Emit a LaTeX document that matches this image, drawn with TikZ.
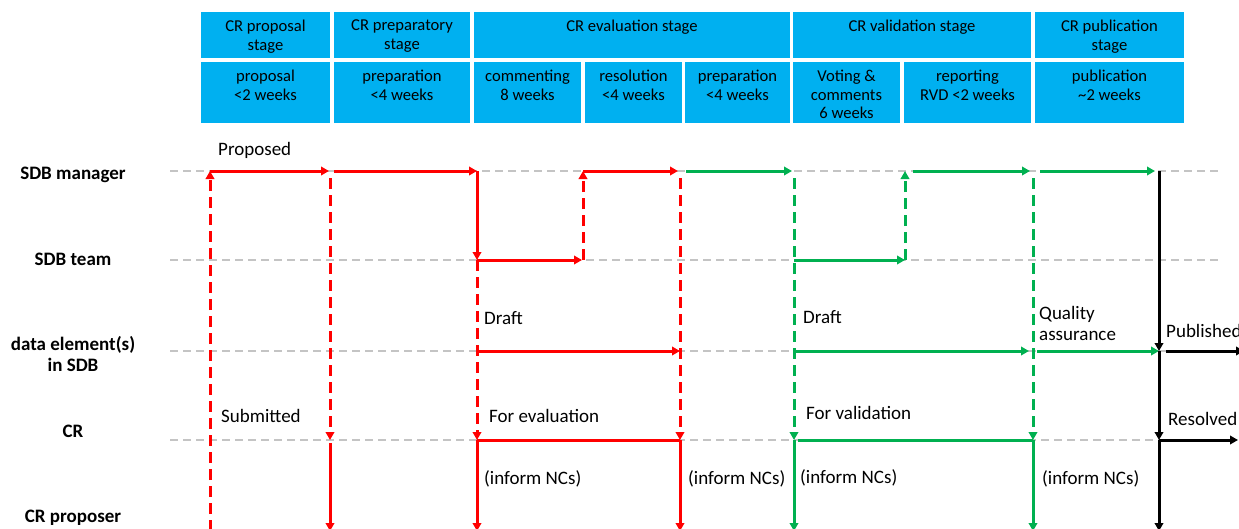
\documentclass[tikz,border=0pt]{standalone}
\usepackage{fontspec}
\setmainfont{Carlito}
\usetikzlibrary{arrows.meta}
\definecolor{hdr}{HTML}{00B0F0}
\definecolor{rd}{HTML}{FF0000}
\definecolor{gr}{HTML}{00B050}
\definecolor{lanec}{HTML}{C4C4C4}
\begin{document}
\begin{tikzpicture}[x=1pt,y=-1pt,
  hbox/.style={fill=hdr, draw=none, inner sep=0pt, outer sep=0pt, anchor=north west},
  htext/.style={font=\fontsize{16.6}{18.5}\selectfont, align=center, anchor=north, inner sep=0pt},
  lbl/.style={font=\fontsize{19}{21}\selectfont, anchor=base west, inner sep=0pt},
  lanelbl/.style={font=\bfseries\fontsize{19}{21}\selectfont, anchor=base, inner sep=0pt},
  laneline/.style={draw=lanec, line width=2pt, dash pattern=on 8pt off 5pt},
  flow/.style={line width=3pt, -{Triangle[length=8pt,width=8.5pt]}},
  plain/.style={line width=3pt},
  dsh/.style={dash pattern=on 11pt off 6pt},
]
\useasboundingbox (0,0) rectangle (1239,528);

% ---------- header ----------
\node[hbox, minimum width=129pt, minimum height=46pt] (s1) at (201,12) {};
\node[hbox, minimum width=136pt, minimum height=46pt] (s2) at (334,12) {};
\node[hbox, minimum width=316pt, minimum height=46pt] (s3) at (474,12) {};
\node[hbox, minimum width=238pt, minimum height=46pt] (s4) at (793,12) {};
\node[hbox, minimum width=149pt, minimum height=46pt] (s5) at (1035,12) {};

\node[hbox, minimum width=129pt, minimum height=61pt] (p1) at (201,62) {};
\node[hbox, minimum width=136pt, minimum height=61pt] (p2) at (334,62) {};
\node[hbox, minimum width=107pt, minimum height=61pt] (p3) at (474,62) {};
\node[hbox, minimum width=97pt, minimum height=61pt] (p4) at (585,62) {};
\node[hbox, minimum width=105pt, minimum height=61pt] (p5) at (685,62) {};
\node[hbox, minimum width=107pt, minimum height=61pt] (p6) at (793,62) {};
\node[hbox, minimum width=127pt, minimum height=61pt] (p7) at (904,62) {};
\node[hbox, minimum width=149pt, minimum height=61pt] (p8) at (1035,62) {};

\node[htext] (s1t) at (265.5,20) {CR proposal\\stage};
\node[htext] (s2t) at (402,20) {CR preparatory\\stage};
\node[htext] (s3t) at (632,20) {CR evaluation stage};
\node[htext] (s4t) at (912,20) {CR validation stage};
\node[htext] (s5t) at (1109.5,20) {CR publication\\stage};

\node[htext] (p1t) at (265.5,70) {proposal\\<2 weeks};
\node[htext] (p2t) at (402,70) {preparation\\<4 weeks};
\node[htext] (p3t) at (527.5,70) {commenting\\8 weeks};
\node[htext] (p4t) at (633.5,70) {resolution\\<4 weeks};
\node[htext] (p5t) at (737.5,70) {preparation\\<4 weeks};
\node[htext] (p6t) at (846.5,70) {Voting \&\\comments\\6 weeks};
\node[htext] (p7t) at (967.5,70) {reporting\\RVD <2 weeks};
\node[htext] (p8t) at (1109.5,70) {publication\\\textasciitilde 2 weeks};

% ---------- lanes ----------
\node[lanelbl] (l1) at (73,179) {SDB manager};
\node[lanelbl] (l2) at (73,265) {SDB team};
\node[lanelbl] (l3a) at (73,350) {data element(s)};
\node[lanelbl] (l3b) at (73,371) {in SDB};
\node[lanelbl] (l4) at (73,437) {CR};
\node[lanelbl] (l5) at (73,522) {CR proposer};

\foreach \l/\y in {M/171,T/260,D/351,C/440}{
  \coordinate (\l0) at (170,\y);
  \coordinate (\l1) at (1218,\y);
  \draw[laneline] (\l0) -- (\l1);
}

\foreach \n/\x in {a/210,b/330,c/477,d/583,e/680,f/794,g/905,h/1033,k/1159}{
  \foreach \l/\y in {M/171,T/260,D/351,C/440,P/531}{
    \coordinate (\n\l) at (\x,\y);
  }
}
\coordinate (rD) at (1244,351);
\coordinate (rC) at (1238,440);

% ---------- red flows ----------
\draw[flow, rd, dsh] (aP) -- (aM);
\draw[flow, rd, shorten >=1pt] (aM) -- (bM);
\draw[flow, rd, dsh, shorten <=7pt] (bM) -- (bC);
\draw[flow, rd, shorten <=3pt] (bC) -- (bP);
\draw[flow, rd, shorten <=4pt] (bM) -- (cM);
\draw[flow, rd] (cM) -- (cT);
\draw[flow, rd, shorten >=1pt] (cT) -- (dT);
\draw[flow, rd, dsh] (cT) -- (cC);
\draw[flow, rd] (cD) -- (eD);
\draw[plain, rd] (cC) -- (eC);
\draw[flow, rd] (cC) -- (cP);
\draw[flow, rd, dsh] (dT) -- (dM);
\draw[flow, rd, shorten >=2pt] (dM) -- (eM);
\draw[flow, rd, dsh, shorten <=7pt] (eM) -- (eC);
\draw[flow, rd] (eC) -- (eP);

% ---------- green flows ----------
\draw[flow, gr, shorten <=6pt, shorten >=2pt] (eM) -- (fM);
\draw[flow, gr, dsh, shorten <=7pt] (fM) -- (fC);
\draw[flow, gr] (fT) -- (gT);
\draw[flow, gr, shorten >=4pt] (fD) -- (hD);
\draw[plain, gr, shorten <=4pt] (fC) -- (hC);
\draw[flow, gr] (fC) -- (fP);
\draw[flow, gr, dsh] (gT) -- (gM);
\draw[flow, gr, shorten <=8pt, shorten >=3pt] (gM) -- (hM);
\draw[flow, gr, dsh, shorten <=7pt] (hM) -- (hC);
\draw[flow, gr, shorten <=4pt] (hD) -- (kD);
\draw[flow, gr] (hC) -- (hP);
\draw[flow, gr, shorten <=7pt, shorten >=4pt] (hM) -- (kM);

% ---------- black flows ----------
\draw[flow] (kM) -- (kD);
\draw[flow] (kD) -- (kC);
\draw[flow] (kC) -- (kP);
\draw[flow, shorten <=7pt] (kD) -- (rD);
\draw[flow] (kC) -- (rC);

% ---------- labels ----------
\node[lbl] (tProposed) at (218,155) {Proposed};
\node[lbl] (tSubmitted) at (221,422) {Submitted};
\node[lbl] (tDraftR) at (484,324) {Draft};
\node[lbl] (tEval) at (489,422) {For evaluation};
\node[lbl] (tInf1) at (484,484) {(inform NCs)};
\node[lbl] (tInf2) at (688,484) {(inform NCs)};
\node[lbl] (tDraftG) at (803,323) {Draft};
\node[lbl] (tVal) at (806,419) {For validation};
\node[lbl] (tInf3) at (800,483) {(inform NCs)};
\node[lbl] (tQual) at (1039,319) {Quality};
\node[lbl] (tAssur) at (1039,340) {assurance};
\node[lbl] (tInf4) at (1042,484) {(inform NCs)};
\node[lbl] (tPub) at (1166,337) {Published};
\node[lbl] (tRes) at (1168,425) {Resolved};
\end{tikzpicture}
\end{document}
